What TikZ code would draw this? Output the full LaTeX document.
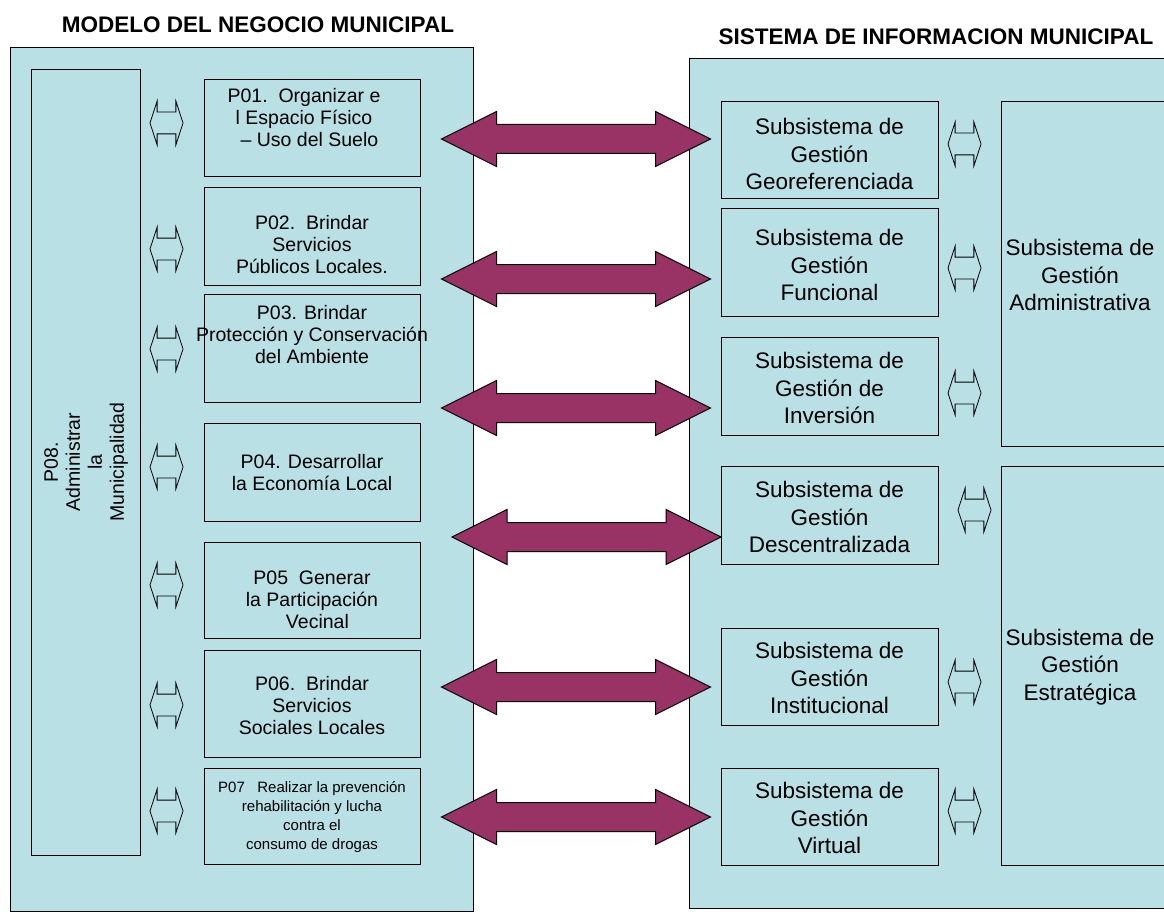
\documentclass[tikz,border=0pt]{standalone}
\usepackage{fontspec}
\setmainfont{Liberation Sans}
\usetikzlibrary{shapes.arrows}

\definecolor{fondo}{RGB}{185,224,229}
\definecolor{vino}{RGB}{153,51,102}

\tikzset{
	caja/.style={draw, line width=1pt, fill=fondo, inner sep=0pt, anchor=north west},
	proc/.style={align=center, inner sep=0pt, font=\fontsize{19.5}{22}\selectfont},
	subs/.style={align=center, inner sep=0pt, font=\fontsize{22.5}{27.5}\selectfont},
	titulo/.style={inner sep=0pt, font=\bfseries\fontsize{22.5}{27}\selectfont},
}

\begin{document}
\begin{tikzpicture}[x=1pt, y=-1pt]
	\useasboundingbox (0,0) rectangle (1164,912);
	\clip (0,0) rectangle (1164,912);

	\node[titulo] (tmodelo) at (258,25) {MODELO DEL NEGOCIO MUNICIPAL};
	\node[titulo] (tsistema) at (936,37) {SISTEMA DE INFORMACION MUNICIPAL};

	% modelo del negocio
	\node[caja, minimum width=463pt, minimum height=864pt] (modelo) at (10,47) {};
	\node[caja, minimum width=109pt, minimum height=786pt] (p08) at (31,69) {};
	\begin{scope}[every node/.style={caja, minimum width=216pt}]
		\node[minimum height=97pt] (p01) at (204,79) {};
		\node[minimum height=98pt] (p02) at (204,187) {};
		\node[minimum height=108pt] (p03) at (204,294) {};
		\node[minimum height=98pt] (p04) at (204,423) {};
		\node[minimum height=96pt] (p05) at (204,542) {};
		\node[minimum height=107pt] (p06) at (204,650) {};
		\node[minimum height=96pt] (p07) at (204,768) {};
	\end{scope}

	\node[proc, rotate=90] (t08) at (86,462) {P08.\\Administrar\\la\\Municipalidad};
	\node[proc] (t01) at (304,118) {P01.\ \ Organizar e\\l Espacio Físico\\\ \ – Uso del Suelo};
	\node[proc] (t02) at (312,245) {P02.\ \ Brindar\\Servicios\\Públicos Locales.};
	\node[proc] (t03) at (312,335) {P03. Brindar\\\makebox[0pt]{Protección y Conservación}\\del Ambiente};
	\node[proc] (t04) at (312,473) {P04. Desarrollar\\la Economía Local};
	\node[proc] (t05) at (312,600) {P05\ \ Generar\\la Participación\\\ \ Vecinal};
	\node[proc] (t06) at (312,706) {P06.\ \ Brindar\\Servicios\\Sociales Locales};
	\node[proc, font=\fontsize{15}{18.7}\selectfont] (t07) at (312,817)
		{P07\ \ \ Realizar la prevención\\rehabilitación y lucha\\contra el\\consumo de drogas};

	% sistema de informacion
	\node[caja, minimum width=490pt, minimum height=850pt] (sistema) at (689,58) {};
	\begin{scope}[every node/.style={caja, minimum width=217pt}]
		\node[minimum height=97pt] (s1) at (721,101) {};
		\node[minimum height=108pt] (s2) at (721,208) {};
		\node[minimum height=98pt] (s3) at (721,337) {};
		\node[minimum height=98pt] (s4) at (721,466) {};
		\node[minimum height=97pt] (s5) at (721,628) {};
		\node[minimum height=97pt] (s6) at (721,768) {};
	\end{scope}
	\node[caja, minimum width=180pt, minimum height=345pt] (adm) at (1001,101) {};
	\node[caja, minimum width=180pt, minimum height=399pt] (est) at (1001,466) {};

	\node[subs] (ts1) at (829.5,154) {Subsistema de\\Gestión\\Georeferenciada};
	\node[subs] (ts2) at (829.5,265) {Subsistema de\\Gestión\\Funcional};
	\node[subs] (ts3) at (829.5,388) {Subsistema de\\Gestión de\\Inversión};
	\node[subs] (ts4) at (829.5,517) {Subsistema de\\Gestión\\Descentralizada};
	\node[subs] (ts5) at (829.5,678) {Subsistema de\\Gestión\\Institucional};
	\node[subs] (ts6) at (829.5,818) {Subsistema de\\Gestión\\Virtual};
	\node[subs] (tadm) at (1080,275) {Subsistema de\\Gestión\\Administrativa};
	\node[subs] (test) at (1080,667) {Subsistema de\\Gestión\\Estratégica};

	% flechas pequenas
	\begin{scope}[every node/.style={double arrow, draw, fill=fondo, line width=0.8pt, inner xsep=0pt, inner ysep=10.5pt,
			minimum height=33pt, minimum width=43pt, double arrow head extend=11pt, double arrow tip angle=144}]
		\node (a1) at (166.5,123) {};
		\node (a2) at (166.5,249) {};
		\node (a3) at (166.5,349) {};
		\node (a4) at (166.5,467) {};
		\node (a5) at (166.5,585) {};
		\node (a6) at (166.5,705) {};
		\node (a7) at (166.5,811) {};
		\node (b1) at (964.5,144) {};
		\node (b2) at (964.5,268) {};
		\node (b3) at (964.5,393) {};
		\node (b4) at (974.5,510) {};
		\node (b5) at (964.5,682) {};
		\node (b6) at (964.5,811) {};
	\end{scope}

	% flechas grandes
	\begin{scope}[every node/.style={double arrow, draw, fill=vino, line width=1pt, inner xsep=0pt, inner ysep=14pt,
			minimum height=269pt, minimum width=54pt, double arrow head extend=13pt, double arrow tip angle=53.13}]
		\node (f1) at (576,139) {};
		\node (f2) at (576,279) {};
		\node (f3) at (576,408) {};
		\node (f4) at (586.5,537) {};
		\node (f5) at (576,687) {};
		\node (f6) at (576,817) {};
	\end{scope}
\end{tikzpicture}
\end{document}
